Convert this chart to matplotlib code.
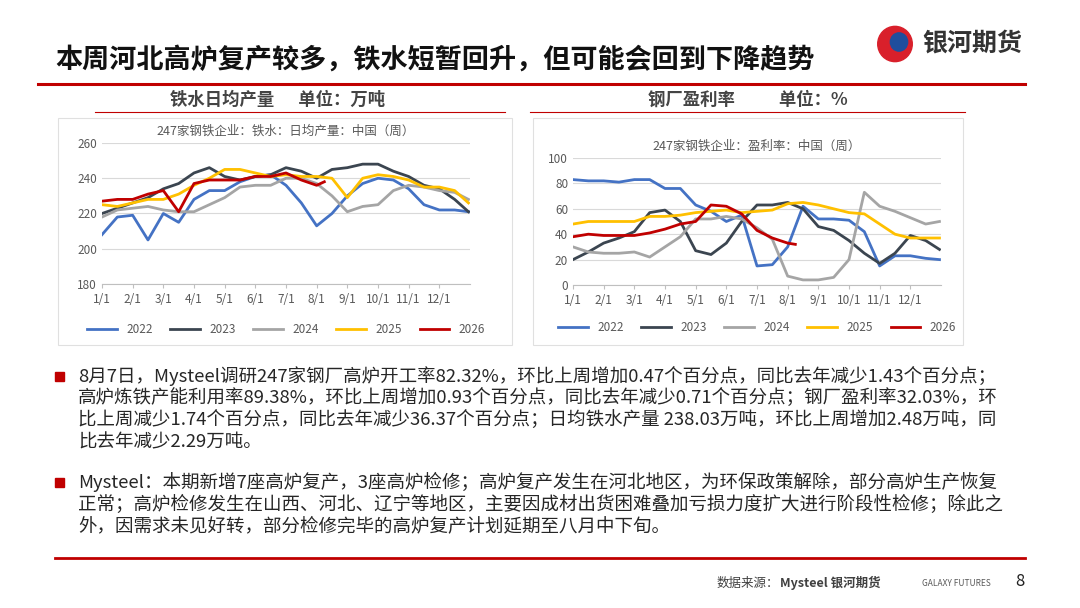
import matplotlib.pyplot as plt
import matplotlib.patches as mpatches

plt.rcParams['font.family'] = ['Noto Sans CJK SC', 'DejaVu Sans']

# semi-monthly grid: 1/1, 1/15, 2/1, ... 12/15, 12/31 (month index)
grid = [i * 0.5 for i in range(24)] + [11.95]
months = ['1/1', '2/1', '3/1', '4/1', '5/1', '6/1', '7/1', '8/1', '9/1', '10/1', '11/1', '12/1']
years = ['2022', '2023', '2024', '2025', '2026']
colors = ['#4472C4', '#3B4550', '#A5A5A5', '#FFC000', '#C00000']

iron = {
    '2022': [208, 218, 219, 205, 220, 215, 228, 233, 233, 238, 241, 242, 236, 226, 213, 220, 230, 237, 240, 239, 234, 225, 222, 222, 221],
    '2023': [220, 223, 226, 229, 234, 237, 243, 246, 241, 239, 241, 242, 246, 244, 240, 245, 246, 248, 248, 244, 241, 236, 234, 228, 221],
    '2024': [218, 222, 223, 224, 222, 221, 221, 225, 229, 235, 236, 236, 240, 240, 237, 230, 221, 224, 225, 233, 236, 235, 233, 232, 228],
    '2025': [225, 224, 226, 228, 228, 231, 236, 240, 245, 245, 243, 241, 242, 241, 241, 240, 229, 240, 242, 241, 239, 235, 235, 233, 226],
    '2026': [227, 228, 228, 231, 233, 221, 237, 239, 239, 239, 241, 241, 243, 239, 236, 238],
}
profit = {
    '2022': [83, 82, 82, 81, 83, 83, 76, 76, 63, 58, 50, 55, 15, 16, 30, 62, 52, 52, 51, 42, 15, 23, 23, 21, 20],
    '2023': [20, 26, 33, 37, 42, 57, 59, 50, 27, 24, 33, 50, 63, 63, 65, 60, 46, 43, 35, 25, 17, 25, 39, 35, 28],
    '2024': [30, 26, 25, 25, 26, 22, 30, 38, 52, 52, 54, 52, 45, 36, 7, 4, 4, 6, 20, 73, 62, 58, 53, 48, 50],
    '2025': [48, 50, 50, 50, 50, 54, 54, 55, 57, 58, 59, 57, 58, 59, 64, 65, 63, 60, 57, 56, 48, 40, 37, 37, 37],
    '2026': [38, 40, 39, 39, 39, 41, 44, 48, 50, 63, 62, 56, 43, 37, 33, 32],
}
x2026 = grid[:15] + [7.25]

fig = plt.figure(figsize=(10.8, 6.08), dpi=100)
W, H = 1080, 608

def fx(px):
    return px / W

def fy(py):
    return 1 - py / H

# header
fig.text(fx(55), fy(60), '本周河北高炉复产较多，铁水短暂回升，但可能会回到下降趋势',
         fontsize=19.5, fontweight='bold', va='center', color='#111111')
fig.add_artist(plt.Line2D([fx(38), fx(1025)], [fy(84), fy(84)], color='#C00000', lw=2.2))
fig.add_artist(mpatches.Ellipse((fx(895), fy(44)), 0.032, 0.058, color='#D9202B'))
fig.add_artist(mpatches.Ellipse((fx(899), fy(42)), 0.016, 0.03, color='#1F4E9D'))
fig.text(fx(922), fy(44), '银河期货', fontsize=18, fontweight='bold', va='center', color='#333333')

# sub headers
fig.text(fx(278), fy(100), '铁水日均产量      单位：万吨', fontsize=12.5, fontweight='bold',
         ha='center', va='center', color='#444444')
fig.add_artist(plt.Line2D([fx(95), fx(505)], [fy(112), fy(112)], color='#C00000', lw=0.8))
fig.text(fx(748), fy(100), '钢厂盈利率           单位：%', fontsize=12.5, fontweight='bold',
         ha='center', va='center', color='#444444')
fig.add_artist(plt.Line2D([fx(530), fx(965)], [fy(112), fy(112)], color='#C00000', lw=0.8))

# panel frames
for x0, x1 in [(58, 512), (533, 963)]:
    fig.add_artist(mpatches.Rectangle((fx(x0), fy(345)), fx(x1 - x0), (345 - 118) / H,
                                      fill=False, ec='#E0E0E0', lw=0.8))

def draw(ax, data, xlast, ylim, yticks, title):
    for y, c in zip(years, colors):
        xs = xlast if y == '2026' else grid
        ax.plot(xs, data[y], color=c, lw=2, label=y)
    ax.set_xlim(0, 12)
    ax.set_ylim(*ylim)
    ax.set_yticks(yticks)
    ax.set_xticks(range(12))
    ax.set_xticklabels(months)
    ax.grid(axis='y', color='#D9D9D9', lw=0.8)
    ax.set_axisbelow(True)
    for s in ['top', 'right', 'left']:
        ax.spines[s].set_visible(False)
    ax.spines['bottom'].set_color('#BFBFBF')
    ax.tick_params(labelsize=8.5, colors='#595959', length=0)
    ax.tick_params(axis='x', length=3, color='#BFBFBF')
    ax.set_title(title, fontsize=9, color='#595959', pad=6)
    ax.legend(loc='upper center', bbox_to_anchor=(0.5, -0.2), ncol=5, frameon=False,
              fontsize=8.5, handlelength=2.5, columnspacing=1.5, labelcolor='#595959')

ax1 = fig.add_axes([fx(102), fy(284), fx(368), (284 - 143) / H])
draw(ax1, iron, grid[:15] + [7.25], (180, 260), range(180, 261, 20), '247家钢铁企业：铁水：日均产量：中国（周）')
ax2 = fig.add_axes([fx(573), fy(285), fx(368), (285 - 158) / H])
draw(ax2, profit, x2026, (0, 100), range(0, 101, 20), '247家钢铁企业：盈利率：中国（周）')

# body text
body1 = ['8月7日，Mysteel调研247家钢厂高炉开工率82.32%，环比上周增加0.47个百分点，同比去年减少1.43个百分点；',
         '高炉炼铁产能利用率89.38%，环比上周增加0.93个百分点，同比去年减少0.71个百分点；钢厂盈利率32.03%，环',
         '比上周减少1.74个百分点，同比去年减少36.37个百分点；日均铁水产量 238.03万吨，环比上周增加2.48万吨，同',
         '比去年减少2.29万吨。']
body2 = ['Mysteel：本期新增7座高炉复产，3座高炉检修；高炉复产发生在河北地区，为环保政策解除，部分高炉生产恢复',
         '正常；高炉检修发生在山西、河北、辽宁等地区，主要因成材出货困难叠加亏损力度扩大进行阶段性检修；除此之',
         '外，因需求未见好转，部分检修完毕的高炉复产计划延期至八月中下旬。']
for start, lines in [(376, body1), (482, body2)]:
    fig.add_artist(mpatches.Rectangle((fx(55), fy(start + 5)), fx(9), 9 / H, color='#C00000'))
    for i, line in enumerate(lines):
        fig.text(fx(78), fy(start + i * 22), line, fontsize=13.3, va='center', color='#262626')

# footer
fig.add_artist(plt.Line2D([fx(55), fx(1025)], [fy(558), fy(558)], color='#C00000', lw=2))
fig.text(fx(717), fy(583), '数据来源：', fontsize=9, va='center', color='#404040')
fig.text(fx(780), fy(583), 'Mysteel 银河期货', fontsize=9, va='center', color='#404040', fontweight='bold')
fig.text(fx(922), fy(583), 'GALAXY FUTURES', fontsize=6, va='center', color='#595959')
fig.text(fx(1015), fy(582), '8', fontsize=12, va='center', color='#222222')

fig.savefig('out.png', dpi=100)
